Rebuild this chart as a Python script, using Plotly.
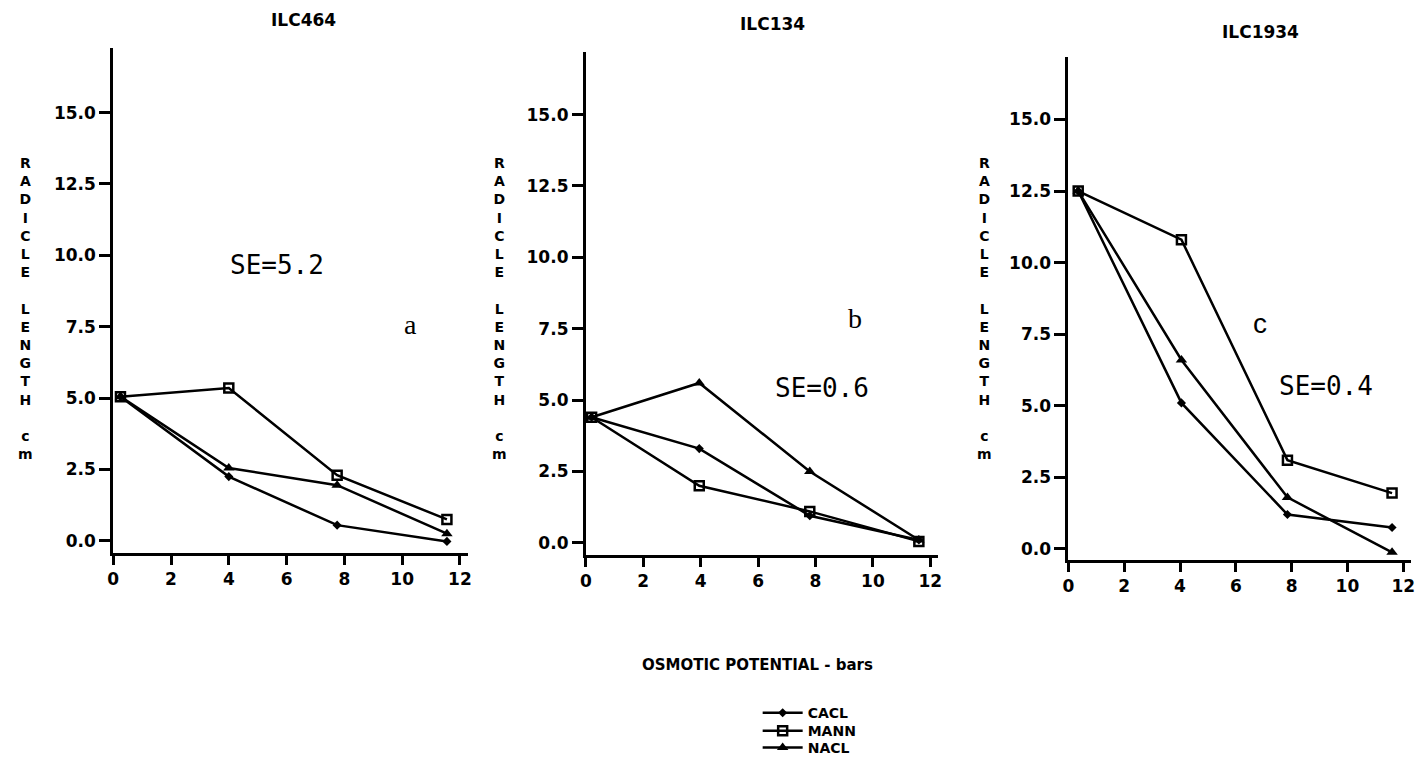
import plotly.graph_objects as go

# ---------------- data ----------------
panels = ["ILC464", "ILC134", "ILC1934"]
x_a = [0.25, 4.0, 7.75, 11.55]
x_b = [0.2, 3.95, 7.8, 11.6]
x_c = [0.35, 4.05, 7.85, 11.6]

cacl_a = [5.05, 2.25, 0.55, -0.02]
mann_a = [5.05, 5.35, 2.3, 0.75]
nacl_a = [5.05, 2.55, 1.95, 0.25]

cacl_b = [4.4, 3.3, 0.95, 0.1]
mann_b = [4.4, 2.0, 1.1, 0.05]
nacl_b = [4.4, 5.6, 2.5, 0.1]

cacl_c = [12.5, 5.1, 1.2, 0.75]
mann_c = [12.5, 10.8, 3.1, 1.95]
nacl_c = [12.5, 6.6, 1.8, -0.12]

series_names = ["CACL", "MANN", "NACL"]
y_tickvals = [0, 2.5, 5, 7.5, 10, 12.5, 15]
y_ticktext = ["0.0", "2.5", "5.0", "7.5", "10.0", "12.5", "15.0"]
x_tickvals = [0, 2, 4, 6, 8, 10, 12]
x_ticktext = ["0", "2", "4", "6", "8", "10", "12"]
se_labels = ["SE=5.2", "SE=0.6", "SE=0.4"]
panel_letters = ["a", "b", "c"]
x_title = "OSMOTIC POTENTIAL - bars"
y_title_letters = list("RADICLE") + [""] + list("LENGTH") + [""] + ["c", "m"]

# ---------------- layout helpers ----------------
W, H = 1418, 764
def px_x(p):
    return p / W
def px_y(p):
    return (H - p) / H

# panel geometry (pixels): x-left, x-right, y-top, y-bottom, y-range, x-range
geo = [
    dict(xl=108, xr=465, yt=48, yb=555, yr=[-0.42, 17.27], xr_=[0, 12.27]),
    dict(xl=584, xr=939, yt=52, yb=557, yr=[-0.42, 17.2], xr_=[0, 12.28]),
    dict(xl=1070, xr=1415, yt=57, yb=562, yr=[-0.38, 17.19], xr_=[0, 12.28]),
]

styles = {
    "CACL": dict(symbol="diamond", size=7, line=dict(width=0, color="black")),
    "MANN": dict(symbol="square-open", size=9, line=dict(width=2.5, color="black")),
    "NACL": dict(symbol="triangle-up", size=10, line=dict(width=0, color="black")),
}
legend_ids = {"CACL": "legend", "MANN": "legend2", "NACL": "legend3"}
legend_rows = {"legend": 716, "legend2": 734, "legend3": 751}

data_sets = [
    (x_a, {"CACL": cacl_a, "MANN": mann_a, "NACL": nacl_a}),
    (x_b, {"CACL": cacl_b, "MANN": mann_b, "NACL": nacl_b}),
    (x_c, {"CACL": cacl_c, "MANN": mann_c, "NACL": nacl_c}),
]

fig = go.Figure()
for i, (xs, ys) in enumerate(data_sets):
    suffix = "" if i == 0 else str(i + 1)
    for name in series_names:
        fig.add_trace(go.Scatter(
            x=xs, y=ys[name], mode="lines+markers", name=name,
            xaxis="x" + suffix, yaxis="y" + suffix,
            line=dict(color="black", width=2.5),
            marker=dict(color="black", **styles[name]),
            showlegend=(i == 0), legendgroup=name, legend=legend_ids[name],
        ))

tick_font = dict(family="DejaVu Sans", size=17, color="black", weight=700)
layout = dict(
    width=W, height=H, autosize=False,
    margin=dict(l=0, r=0, t=0, b=0),
    paper_bgcolor="white", plot_bgcolor="white",
    showlegend=True,
)
for lid, row in legend_rows.items():
    layout[lid] = dict(x=px_x(757), y=px_y(row), xanchor="left", yanchor="middle",
                       font=dict(family="DejaVu Sans", size=14, color="black", weight=700),
                       bgcolor="rgba(0,0,0,0)", tracegroupgap=0, itemwidth=40,
                       borderwidth=0)

annotations = []
for i, g in enumerate(geo):
    suffix = "" if i == 0 else str(i + 1)
    layout["xaxis" + suffix] = dict(
        domain=[px_x(g["xl"]), px_x(g["xr"])], range=g["xr_"],
        anchor="y" + suffix, showgrid=False, zeroline=False,
        showline=True, linecolor="black", linewidth=3,
        ticks="outside", ticklen=9, tickwidth=3, tickcolor="black",
        tickvals=x_tickvals, ticktext=x_ticktext, tickfont=tick_font,
    )
    layout["yaxis" + suffix] = dict(
        domain=[px_y(g["yb"]), px_y(g["yt"])], range=g["yr"],
        anchor="x" + suffix, showgrid=False, zeroline=False,
        showline=True, linecolor="black", linewidth=3,
        ticks="outside", ticklen=11, tickwidth=3, tickcolor="black",
        tickvals=y_tickvals, ticktext=y_ticktext, tickfont=tick_font,
    )

# panel titles
title_pos = [(300, 20), (772, 24), (1263, 32)]
for t, (tx, ty) in zip(panels, title_pos):
    annotations.append(dict(text=t, x=px_x(tx), y=px_y(ty), xref="paper", yref="paper",
                            showarrow=False, xanchor="center", yanchor="middle",
                            font=dict(family="DejaVu Sans", size=17, color="black", weight=700)))

# vertical y-axis titles
ytitle_x = [20, 497, 985]
for tx in ytitle_x:
    annotations.append(dict(text="<br>".join(y_title_letters), x=px_x(tx), y=px_y(310),
                            xref="paper", yref="paper", showarrow=False,
                            xanchor="center", yanchor="middle", align="center",
                            font=dict(family="DejaVu Sans", size=14, color="black", weight=700)))

# SE and panel letters (data coordinates)
se_pos = [(5.67, 9.66), (8.24, 5.43), (9.25, 5.69)]
letter_pos = [(10.3, 7.57), (9.38, 7.85), (6.87, 7.89)]
letter_fonts = ["Liberation Serif", "Liberation Serif", "Liberation Sans"]
for i in range(3):
    suffix = "" if i == 0 else str(i + 1)
    annotations.append(dict(text=se_labels[i], x=se_pos[i][0], y=se_pos[i][1],
                            xref="x" + suffix, yref="y" + suffix, showarrow=False,
                            font=dict(family="DejaVu Sans Mono", size=26, color="black")))
    annotations.append(dict(text=panel_letters[i], x=letter_pos[i][0], y=letter_pos[i][1],
                            xref="x" + suffix, yref="y" + suffix, showarrow=False,
                            font=dict(family=letter_fonts[i], size=28, color="black")))

# x-axis title
annotations.append(dict(text=x_title, x=px_x(757), y=px_y(668), xref="paper", yref="paper",
                        showarrow=False, xanchor="center", yanchor="middle",
                        font=dict(family="DejaVu Sans", size=15, color="black", weight=700)))

layout["annotations"] = annotations
fig.update_layout(**layout)
fig.write_html("out.html", config={"displayModeBar": False},
               post_script="document.body.style.margin='0';document.body.style.overflow='hidden';")
